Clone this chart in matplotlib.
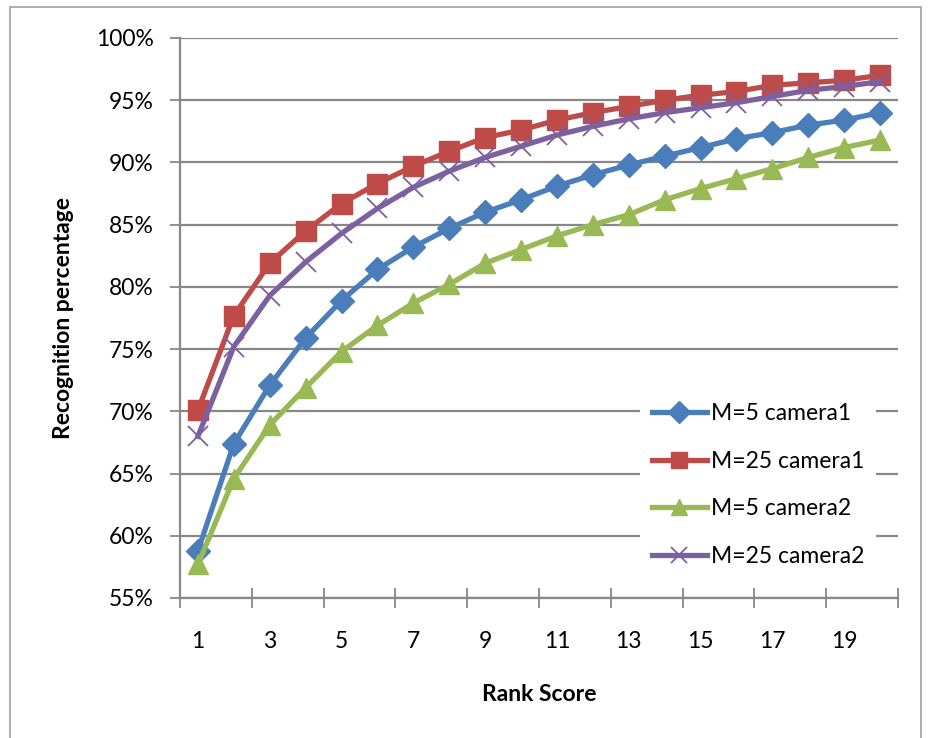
import matplotlib.pyplot as plt
import matplotlib.patches as mpatches
from matplotlib.ticker import FixedLocator, NullFormatter

plt.rcParams['font.family'] = ['Lato', 'DejaVu Sans']

# rank scores and recognition rates (%)
ranks = list(range(1, 21))
m5_cam1 = [58.8, 67.4, 72.1, 75.9, 78.9, 81.4, 83.2, 84.7, 86.0, 87.0,
           88.1, 89.0, 89.8, 90.5, 91.2, 91.9, 92.4, 93.0, 93.4, 94.0]
m25_cam1 = [70.1, 77.7, 81.9, 84.5, 86.7, 88.3, 89.7, 90.9, 92.0, 92.6,
            93.4, 94.0, 94.5, 95.0, 95.4, 95.7, 96.2, 96.4, 96.6, 97.0]
m5_cam2 = [57.7, 64.6, 68.9, 71.9, 74.8, 76.9, 78.7, 80.2, 81.9, 83.0,
           84.1, 85.0, 85.8, 87.0, 87.9, 88.7, 89.5, 90.4, 91.2, 91.8]
m25_cam2 = [68.0, 75.2, 79.3, 82.0, 84.3, 86.3, 88.0, 89.3, 90.4, 91.3,
            92.2, 92.9, 93.5, 94.0, 94.4, 94.8, 95.3, 95.8, 96.1, 96.5]
x_labels = [str(r) for r in ranks[::2]]

fig = plt.figure(figsize=(9.3, 7.38), dpi=100)
ax = fig.add_axes([180 / 930, 1 - 598 / 738, 718 / 930, 560 / 738])

# 外框
fig.patches.append(mpatches.Rectangle((10 / 930, -0.05), 911 / 930, 1.05 - 7 / 738,
                                      transform=fig.transFigure, fill=False,
                                      edgecolor='#a0a0a0', linewidth=1.2))

grid_c = '#878787'
fs = 16.5
ax.plot(ranks, m5_cam1, color='#4a7ebb', lw=3.8, marker='D', ms=12,
        label='M=5 camera1', zorder=3)
ax.plot(ranks, m25_cam1, color='#be4b48', lw=3.8, marker='s', ms=14,
        label='M=25 camera1', zorder=3)
ax.plot(ranks, m5_cam2, color='#98b954', lw=3.8, marker='^', ms=15,
        label='M=5 camera2', zorder=3)
ax.plot(ranks, m25_cam2, color='#7d60a0', lw=3.8, marker='x', ms=14, mew=1.3,
        label='M=25 camera2', zorder=3)

ax.set_xlim(0.5, 20.5)
ax.set_ylim(55, 100)
ax.set_yticks(range(55, 101, 5))
ax.set_yticklabels([f'{v}%' for v in range(55, 101, 5)], fontsize=fs)
ax.yaxis.grid(True, color=grid_c, lw=1.6)
ax.set_axisbelow(True)

# x ticks between categories, labels at odd ranks
ax.xaxis.set_major_locator(FixedLocator([r + 0.5 for r in range(0, 21, 2)]))
ax.xaxis.set_major_formatter(NullFormatter())
ax.xaxis.set_minor_locator(FixedLocator(ranks[::2]))
ax.set_xticklabels(x_labels, minor=True, fontsize=fs)
ax.tick_params(axis='x', which='major', direction='inout', length=14,
               width=1.3, color=grid_c)
ax.tick_params(axis='x', which='minor', length=0, pad=24)
ax.tick_params(axis='y', direction='out', length=7, width=1.3,
               color=grid_c, pad=12)

for s in ['top', 'right']:
    ax.spines[s].set_visible(False)
for s in ['left', 'bottom']:
    ax.spines[s].set_color(grid_c)
    ax.spines[s].set_linewidth(1.6)

ax.set_xlabel('Rank Score', fontsize=fs, fontweight='bold', labelpad=23)
ax.set_ylabel('Recognition percentage', fontsize=fs, fontweight='bold', labelpad=16)

leg = ax.legend(loc='center', bbox_to_anchor=(758 / 930, 1 - 485 / 738),
                bbox_transform=fig.transFigure, fontsize=fs, frameon=True,
                fancybox=False, edgecolor='none', facecolor='white',
                framealpha=1, handlelength=2.4, labelspacing=1.16,
                borderpad=0.5, handletextpad=0.2)
for h in leg.legend_handles:
    h.set_markersize(11)

plt.savefig('out.png', dpi=100)
